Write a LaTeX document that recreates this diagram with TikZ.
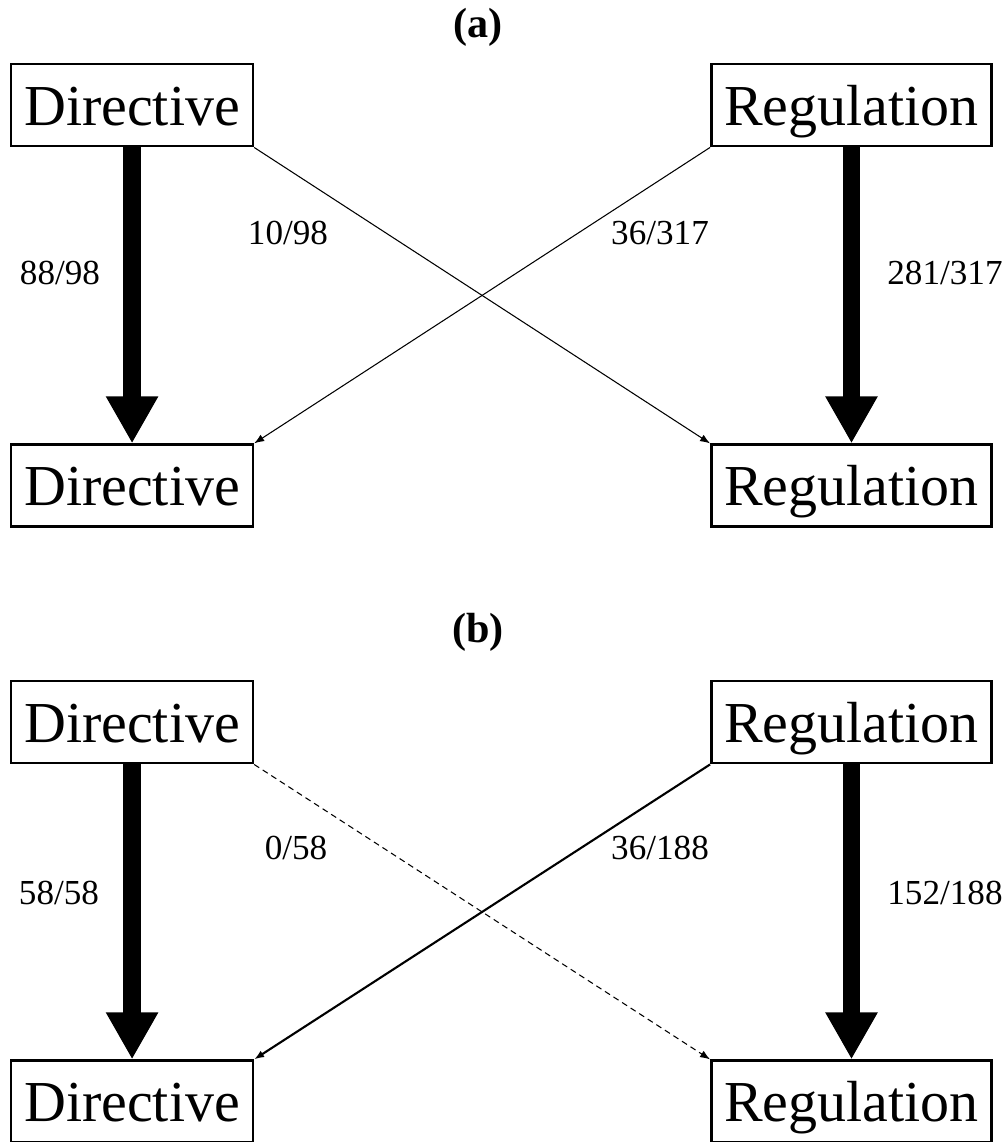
\documentclass[tikz,border=0pt]{standalone}
\usepackage{fontspec}
\setmainfont{Liberation Serif}
\usepackage{xcolor}
\usetikzlibrary{positioning, calc, arrows.meta}
\tikzstyle{Box} = [
draw,
line width=1.4pt,
inner xsep=0.26cm,
inner ysep=0pt,
text height=1.22cm,
text depth=0.42cm,
font=\fontsize{33}{36}\selectfont]
\tikzstyle{Count} = [font=\fontsize{20}{22}\selectfont]
\tikzstyle{Title} = [font=\fontsize{24}{26}\selectfont\bfseries]
\tikzstyle{ArrowFat} = [
line width=10pt,
-{Triangle[width=0.98cm, length=0.94cm]}]
\tikzstyle{ArrowThin} = [
line width=0.6pt,
-{Latex[length=0.2cm, width=0.15cm]}]

\begin{document}
\begin{tikzpicture}[x=0.02cm, y=-0.02cm]
    \useasboundingbox (0,0) rectangle (1003,1142);

    % (a)
    \node [Title] (ta) at (478,27) {(a)};
    \node [Box, anchor=north west] (1) at (10,63) {Directive};
    \node [Box, right =9.12cm of 1] (2) {Regulation};
    \node [Box, below =5.92cm of 1] (3) {Directive};
    \node [Box, below =5.92cm of 2] (4) {Regulation};

    \draw[ArrowFat] (1.south)--(3.north);
    \draw[ArrowFat] (2.south)--(4.north);
    \draw[ArrowThin] (1.south east)--(4.north west);
    \draw[ArrowThin] (2.south west)--(3.north east);

    \node [Count] (c1) at (60,273) {88/98};
    \node [Count] (c2) at (288,233) {10/98};
    \node [Count] (c3) at (660,233) {36/317};
    \node [Count] (c4) at (945,273) {281/317};

    % (b)
    \node [Title] (tb) at (478,632) {(b)};
    \node [Box, anchor=north west] (5) at (10,680) {Directive};
    \node [Box, right =9.12cm of 5] (6) {Regulation};
    \node [Box, below =5.9cm of 5] (7) {Directive};
    \node [Box, below =5.9cm of 6] (8) {Regulation};

    \draw[ArrowFat] (5.south)--(7.north);
    \draw[ArrowFat] (6.south)--(8.north);
    \draw[ArrowThin, dash pattern=on 3.4pt off 2.4pt] (5.south east)--(8.north west);
    \draw[ArrowThin, line width=1.2pt] (6.south west)--(7.north east);

    \node [Count] (c5) at (59,893) {58/58};
    \node [Count] (c6) at (296,848) {0/58};
    \node [Count] (c7) at (660,848) {36/188};
    \node [Count] (c8) at (945,893) {152/188};
\end{tikzpicture}
\end{document}
